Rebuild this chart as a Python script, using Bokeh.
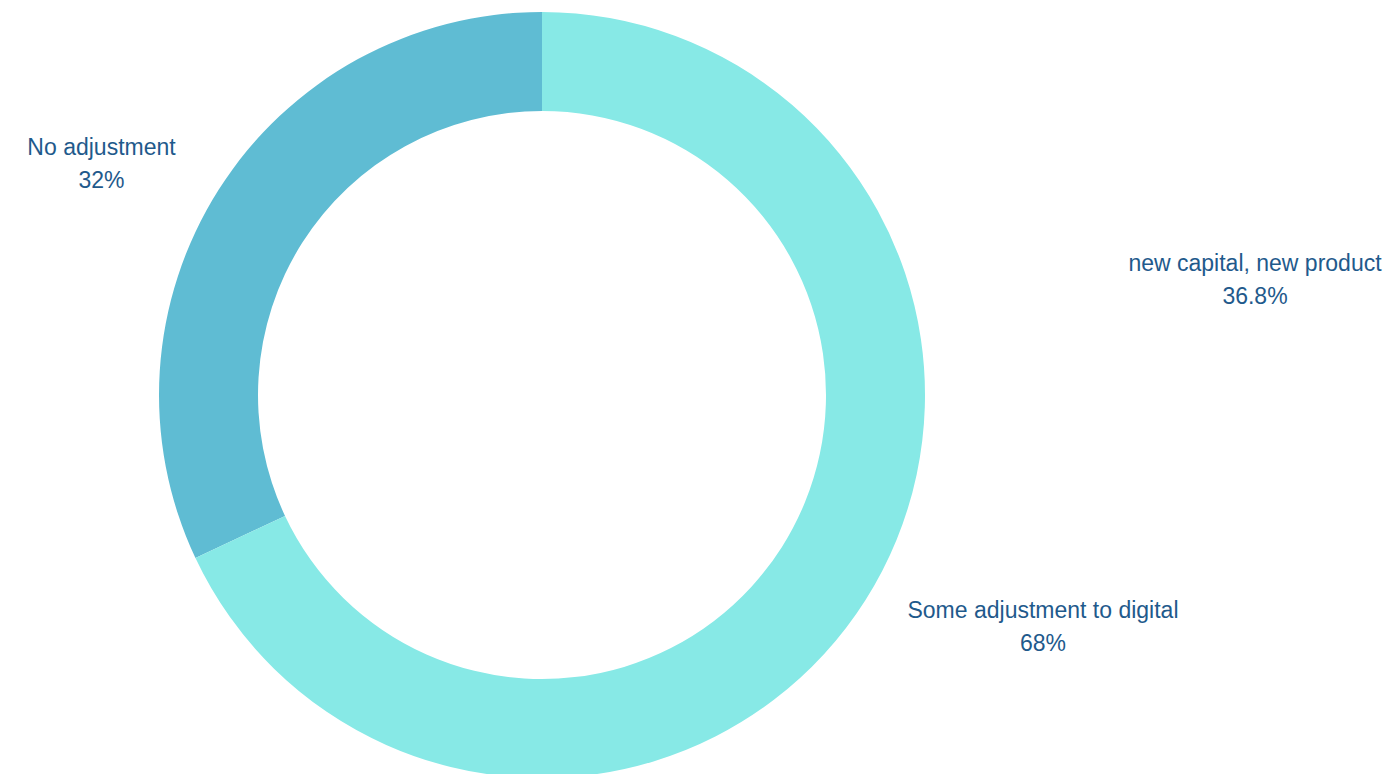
import math
from bokeh.plotting import figure
from bokeh.models import Range1d
from bokeh.core.properties import value
from bokeh.embed import file_html
from bokeh.resources import INLINE

# ---- data ----
categories = ["No adjustment", "Some adjustment to digital"]
shares = [32, 68]
slice_colors = ["#5FBCD3", "#87E9E6"]
label_texts = ["No adjustment", "new capital, new product", "Some adjustment to digital"]
label_values = ["32%", "36.8%", "68%"]

# ---- layout (screen pixels) ----
W, H = 1384, 774
cx, cy = 541.5, 394.5
r_out, r_in = 383, 284
label_pos = [(101, 146), (1254.5, 262), (1042.5, 609)]  # center x, first-line baseline
line_gap = 33
text_color = "#1F5A8C"

p = figure(width=W, height=H, output_backend="svg", toolbar_location=None,
           x_range=Range1d(0, W), y_range=Range1d(-H, 0),
           min_border=0, border_fill_color="white", background_fill_color="white")
p.axis.visible = False
p.grid.visible = False
p.outline_line_color = None

total = sum(shares)
start = math.pi / 2
for cat, s, col in zip(categories, shares, slice_colors):
    end = start + 2 * math.pi * s / total
    p.annular_wedge(x=cx, y=-cy, inner_radius=r_in, outer_radius=r_out,
                    start_angle=start, end_angle=end, direction="anticlock",
                    fill_color=col, line_color=None)
    start = end

for (lx, ly), t, v in zip(label_pos, label_texts, label_values):
    p.text(x=[lx, lx], y=[-ly, -(ly + line_gap)], text=[t, v],
           text_align="center", text_baseline="alphabetic",
           text_font=value("Liberation Sans"), text_font_size="23px",
           text_color=text_color)

open("out.html", "w").write(file_html(p, INLINE))
